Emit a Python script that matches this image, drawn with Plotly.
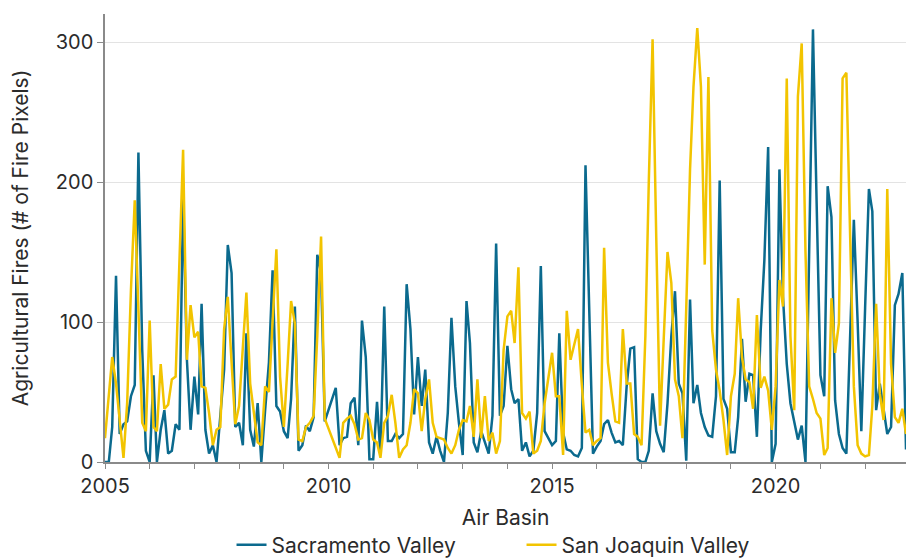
import pandas as pd
import plotly.graph_objects as go

# Monthly agricultural fire pixel counts, Jan 2005 - Dec 2022
sacramento = [
    0, 0, 25, 133, 20, 27, 29, 47, 55, 221, 80, 8,          # 2005
    0, 62, 0, 23, 37, 6, 8, 27, 23, 190, 73, 23,            # 2006
    61, 34, 113, 23, 6, 12, 0, 30, 66, 155, 135, 25,        # 2007
    28, 12, 92, 23, 11, 42, 0, 37, 71, 137, 40, 36,         # 2008
    22, 17, 45, 111, 8, 12, 26, 22, 32, 148, 135, 29,       # 2009
    37, 45, 53, 12, 17, 18, 42, 46, 12, 101, 75, 2,         # 2010
    2, 43, 5, 111, 15, 15, 20, 17, 20, 127, 95, 34,         # 2011
    75, 40, 66, 14, 6, 18, 8, 0, 35, 103, 54, 28,           # 2012
    5, 115, 85, 14, 7, 22, 14, 6, 33, 156, 33, 40,          # 2013
    83, 52, 42, 45, 8, 14, 4, 8, 35, 140, 22, 17,           # 2014
    12, 15, 92, 21, 9, 8, 5, 4, 10, 212, 100, 6,            # 2015
    11, 15, 27, 30, 21, 14, 15, 12, 54, 81, 82, 2,          # 2016
    0, 0, 8, 49, 22, 13, 7, 42, 90, 122, 56, 49,            # 2017
    1, 116, 42, 55, 35, 25, 19, 18, 47, 201, 45, 38,        # 2018
    7, 7, 32, 88, 43, 63, 62, 18, 94, 144, 225, 0,          # 2019
    13, 209, 118, 70, 42, 30, 16, 26, 0, 150, 309, 185,     # 2020
    62, 47, 197, 175, 44, 20, 10, 6, 90, 173, 100, 22,      # 2021
    110, 195, 179, 37, 56, 38, 20, 25, 112, 120, 135, 9,    # 2022
]

san_joaquin = [
    17, 45, 75, 56, 30, 3, 42, 123, 187, 110, 28, 22,       # 2005
    101, 25, 22, 70, 38, 41, 59, 61, 150, 223, 73, 112,     # 2006
    89, 93, 54, 53, 35, 12, 23, 25, 95, 118, 71, 27,        # 2007
    40, 80, 121, 56, 37, 14, 12, 54, 50, 100, 152, 61,      # 2008
    25, 70, 115, 99, 16, 15, 25, 28, 33, 90, 161, 31,       # 2009
    24, 17, 10, 3, 28, 31, 33, 27, 16, 17, 35, 30,          # 2010
    16, 14, 3, 28, 33, 48, 28, 3, 9, 12, 28, 52,            # 2011
    49, 22, 45, 59, 28, 18, 17, 16, 10, 6, 12, 23,          # 2012
    30, 29, 40, 18, 59, 17, 47, 15, 21, 6, 15, 80,          # 2013
    104, 108, 85, 139, 35, 31, 36, 6, 8, 15, 42, 61,        # 2014
    78, 47, 47, 5, 108, 73, 85, 95, 55, 21, 23, 12,         # 2015
    15, 17, 153, 71, 49, 29, 28, 95, 56, 56, 20, 18,        # 2016
    12, 90, 200, 302, 160, 26, 88, 150, 128, 59, 47, 17,    # 2017
    110, 209, 268, 310, 268, 141, 275, 94, 66, 51, 30, 5,   # 2018
    47, 63, 117, 75, 59, 57, 38, 105, 53, 61, 51, 23,       # 2019
    54, 130, 111, 274, 90, 37, 261, 299, 150, 54, 45, 35,   # 2020
    31, 5, 10, 117, 78, 99, 274, 278, 160, 54, 12, 6,       # 2021
    4, 5, 40, 113, 49, 30, 195, 70, 32, 28, 38, 20,         # 2022
]

months = pd.date_range("2005-01-01", periods=len(sacramento), freq="MS")

series_names = ["Sacramento Valley", "San Joaquin Valley"]
series_colors = ["#0b6a8e", "#f2c400"]
y_ticks = [0, 100, 200, 300]

FONT = "Inter, 'Open Sans', sans-serif"
TEXT = "#2b2b2b"
AXIS = "#8a8a8a"

fig = go.Figure()
for name, vals, col in zip(series_names, [sacramento, san_joaquin], series_colors):
    fig.add_trace(go.Scatter(
        x=months, y=vals, name=name, mode="lines",
        line=dict(color=col, width=2.5),
    ))

fig.update_layout(
    width=906, height=560,
    margin=dict(l=105, r=0, t=14, b=98, autoexpand=False),
    paper_bgcolor="white", plot_bgcolor="white",
    font=dict(family=FONT, size=20, color=TEXT),
    showlegend=True,
    legend=dict(
        orientation="h", x=0.52, xanchor="center", y=-0.14, yanchor="top",
        font=dict(size=21, color=TEXT), entrywidth=245, entrywidthmode="pixels",
        traceorder="normal", tracegroupgap=0,
    ),
)

fig.update_xaxes(
    range=[months[0], months[-1]],
    type="date", automargin=False,
    dtick="M60", tick0="2005-01-01", tickformat="%Y",
    ticks="outside", ticklen=5, tickcolor=AXIS, tickwidth=1,
    minor=dict(dtick="M12", ticks="outside", ticklen=5, tickcolor=AXIS),
    showline=True, linecolor=AXIS, linewidth=1.5,
    showgrid=False, zeroline=False,
    tickfont=dict(size=20, color=TEXT),
    title=dict(text="Air Basin", font=dict(size=21, color=TEXT), standoff=14),
)

fig.update_yaxes(
    range=[0, 320], automargin=False,
    tickvals=y_ticks,
    ticks="outside", ticklen=6, tickcolor=AXIS, tickwidth=1,
    showline=True, linecolor=AXIS, linewidth=1.5,
    showgrid=True, gridcolor="#e3e3e3", gridwidth=1,
    zeroline=False,
    tickfont=dict(size=20, color=TEXT),
    title=dict(text="Agricultural Fires (# of Fire Pixels)",
               font=dict(size=21, color=TEXT), standoff=21),
)

fig.write_html("out.html", config={"displayModeBar": False},
               post_script="document.body.style.margin='0';")
